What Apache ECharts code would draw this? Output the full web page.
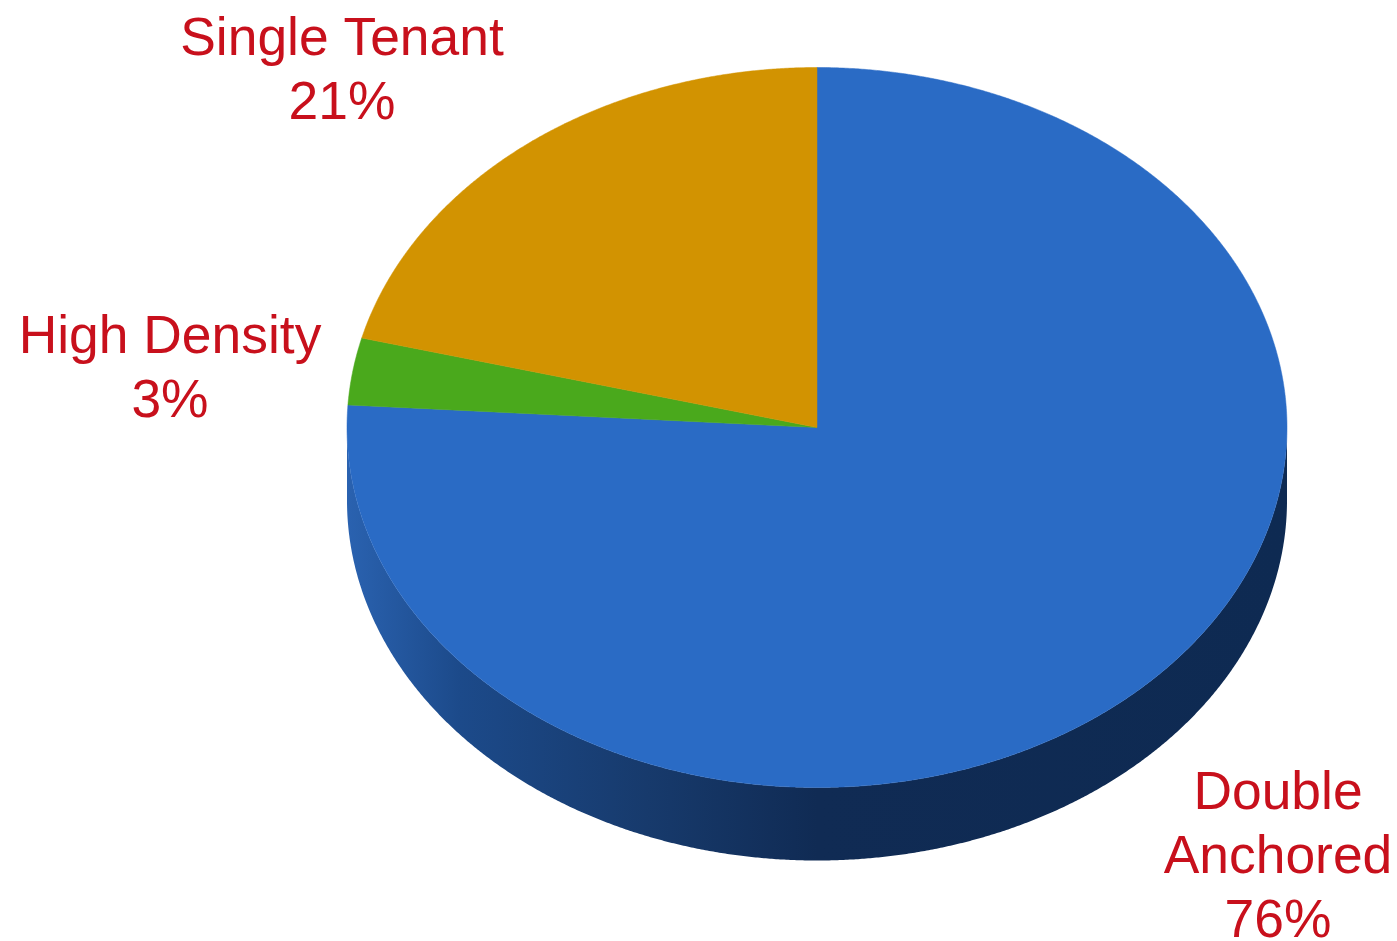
<!DOCTYPE html>
<html>
<head>
<meta charset="utf-8">
<style>
  html, body { margin: 0; padding: 0; background: #ffffff; }
  #chart { width: 1397px; height: 941px; }
</style>
<script src="https://cdn.jsdelivr.net/npm/echarts@6/dist/echarts.min.js"></script>
</head>
<body>
<div id="chart"></div>
<script>
// Share of properties by type, clockwise from twelve o'clock
const categories = ['Double\nAnchored', 'High Density', 'Single Tenant'];
const shares = [76, 3, 21];
const sliceColors = ['#2a6bc5', '#4aa91c', '#d29301'];

// Tilted-disc geometry
const disc = { cx: 817, cy: 427.5, rx: 470, ry: 360, depth: 73 };
const labelCenters = [[1278, 858], [170, 370], [342, 72]];
const labelColor = '#c8101c';

const total = shares.reduce((a, b) => a + b, 0);
const startAngles = shares.map((_, i) =>
  shares.slice(0, i).reduce((a, b) => a + b, 0) / total * 360);

function rimPoint(deg, dy) {
  const t = deg * Math.PI / 180;
  return [disc.cx + disc.rx * Math.sin(t), disc.cy - disc.ry * Math.cos(t) + (dy || 0)];
}

function arc(from, to, dy) {
  const pts = [];
  for (let d = from; d < to; d += 0.25) pts.push(rimPoint(d, dy));
  pts.push(rimPoint(to, dy));
  return pts;
}

function renderSlice(params, api) {
  const i = params.dataIndex;
  const start = startAngles[i];
  const end = start + api.value(0) / total * 360;
  const color = sliceColors[i];
  const children = [];

  // The visible rim wall is the part of the slice on the near half of the disc
  const wallFrom = Math.max(start, 90);
  const wallTo = Math.min(end, 270);
  if (wallTo > wallFrom) {
    children.push({
      type: 'polygon',
      shape: { points: arc(wallFrom, wallTo, 0).concat(arc(wallFrom, wallTo, disc.depth).reverse()) },
      style: {
        fill: new echarts.graphic.LinearGradient(1, 0, 0, 0, [
          { offset: 0, color: '#0e2a52' },
          { offset: 0.5, color: '#102b54' },
          { offset: 0.68, color: '#173a6c' },
          { offset: 0.88, color: '#1c4a8a' },
          { offset: 1, color: '#2a62b0' }
        ])
      }
    });
  }

  children.push({
    type: 'polygon',
    shape: { points: [[disc.cx, disc.cy]].concat(arc(start, end, 0)) },
    style: { fill: color, stroke: color, lineWidth: 0.5 }
  });

  children.push({
    type: 'text',
    style: {
      text: categories[i] + '\n' + api.value(0) + '%',
      x: labelCenters[i][0],
      y: labelCenters[i][1],
      align: 'center',
      verticalAlign: 'middle',
      fill: labelColor,
      fontFamily: '"Liberation Sans", Arial, sans-serif',
      fontSize: 53.4,
      lineHeight: 64
    }
  });

  return { type: 'group', children };
}

const chart = echarts.init(document.getElementById('chart'), null, { renderer: 'canvas' });
chart.setOption({
  backgroundColor: '#ffffff',
  animation: false,
  tooltip: { show: false },
  series: [{
    type: 'custom',
    coordinateSystem: 'none',
    silent: true,
    renderItem: renderSlice,
    data: shares.map((v, i) => ({ name: categories[i], value: [v] }))
  }]
});
</script>
</body>
</html>
